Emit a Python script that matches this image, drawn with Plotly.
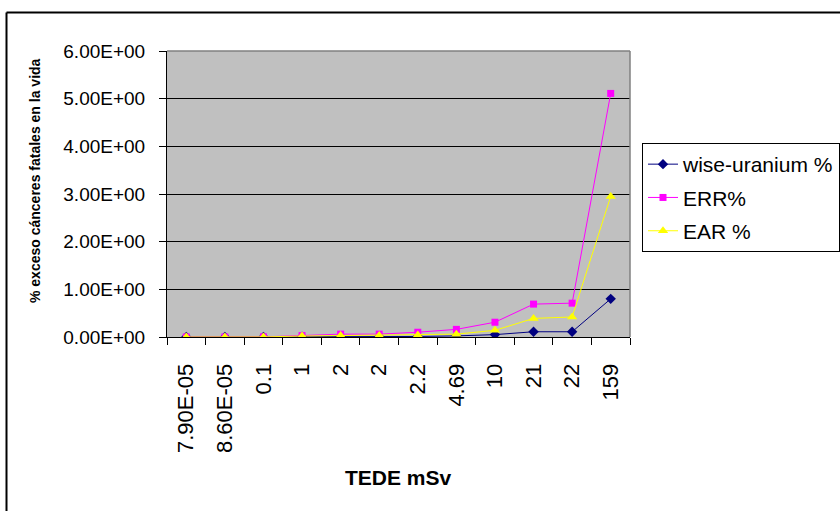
import plotly.graph_objects as go

tede_labels = ["7.90E-05", "8.60E-05", "0.1", "1", "2", "2", "2.2", "4.69", "10", "21", "22", "159"]
wise_uranium = [0.0, 0.0, 0.0005, 0.005, 0.01, 0.01, 0.011, 0.023, 0.05, 0.11, 0.11, 0.80]
err_pct = [0.0, 0.0, 0.003, 0.03, 0.06, 0.06, 0.10, 0.16, 0.31, 0.69, 0.71, 5.11]
ear_pct = [0.0, 0.0, 0.002, 0.02, 0.03, 0.03, 0.04, 0.06, 0.14, 0.39, 0.42, 2.95]
y_ticks = [0, 1, 2, 3, 4, 5, 6]
y_ticktext = ["0.00E+00", "1.00E+00", "2.00E+00", "3.00E+00", "4.00E+00", "5.00E+00", "6.00E+00"]

FONT = "Arial, Liberation Sans, sans-serif"
xs = list(range(len(tede_labels)))

fig = go.Figure()
fig.add_trace(go.Scatter(x=xs, y=wise_uranium, name="wise-uranium %", mode="lines+markers",
                         line=dict(color="#000080", width=1),
                         marker=dict(symbol="diamond", size=8, color="#000080"),
                         legendgroup="a"))
fig.add_trace(go.Scatter(x=xs, y=err_pct, name="ERR%", mode="lines+markers",
                         line=dict(color="#FF00FF", width=1),
                         marker=dict(symbol="square", size=7, color="#FF00FF"),
                         legendgroup="b"))
fig.add_trace(go.Scatter(x=xs, y=ear_pct, name="EAR %", mode="lines+markers",
                         line=dict(color="#FFFF00", width=1),
                         marker=dict(symbol="triangle-up", size=9, color="#FFFF00"),
                         legendgroup="c"))

L, R, T, B = 167, 630, 51, 337
W, H = 840, 511
def px(x):
    return (x - L) / (R - L)
def py(y):
    return (B - y) / (B - T)

fig.update_layout(
    width=W, height=H,
    margin=dict(l=L, r=W - R, t=T, b=H - B, autoexpand=False),
    paper_bgcolor="white",
    plot_bgcolor="#C0C0C0",
    font=dict(family=FONT, color="black"),
    showlegend=True,
    legend=dict(x=px(642), y=py(143), xanchor="left", yanchor="top",
                bgcolor="white", bordercolor="black", borderwidth=1,
                font=dict(size=21, family=FONT), tracegroupgap=3,
                itemwidth=30),
    xaxis=dict(range=[-0.5, len(tede_labels) - 0.5], tickmode="array",
               tickvals=xs, ticktext=tede_labels, tickangle=-90,
               ticks="", ticklabelstandoff=17,
               tickfont=dict(size=22, family=FONT),
               showgrid=False, zeroline=False,
               showline=True, linecolor="black", linewidth=1,
               minor=dict(tickmode="linear", tick0=-0.5, dtick=1, ticks="outside",
                          ticklen=7, tickcolor="black", tickwidth=1, showgrid=False)),
    yaxis=dict(range=[0, 6], tickmode="array", tickvals=y_ticks, ticktext=y_ticktext,
               ticks="outside", ticklen=7, tickcolor="black",
               tickfont=dict(size=19, family=FONT), ticklabelstandoff=10,
               showgrid=True, gridcolor="black", gridwidth=1,
               zeroline=False, showline=True, linecolor="black", linewidth=1),
    annotations=[
        dict(text="<b>% exceso cánceres fatales en la vida</b>", textangle=-90,
             x=px(35), y=py(181), xref="paper", yref="paper", showarrow=False,
             xanchor="center", yanchor="middle",
             font=dict(size=14, family=FONT)),
        dict(text="<b>TEDE mSv</b>", x=px(398), y=py(477), xref="paper", yref="paper",
             xanchor="center", yanchor="middle",
             showarrow=False, font=dict(size=21, family=FONT)),
    ],
    shapes=[
        dict(type="line", xref="paper", yref="paper", x0=0, x1=1, y0=1, y1=1,
             line=dict(color="#808080", width=1.5)),
        dict(type="line", xref="paper", yref="paper", x0=1, x1=1, y0=0, y1=1,
             line=dict(color="#808080", width=1.5)),
        dict(type="line", xref="paper", yref="paper", x0=px(6.5), x1=px(850),
             y0=py(12.5), y1=py(12.5), line=dict(color="black", width=2)),
        dict(type="line", xref="paper", yref="paper", x0=px(6.5), x1=px(6.5),
             y0=py(12.5), y1=py(520), line=dict(color="black", width=2)),
    ],
)

fig.write_html("out.html")
